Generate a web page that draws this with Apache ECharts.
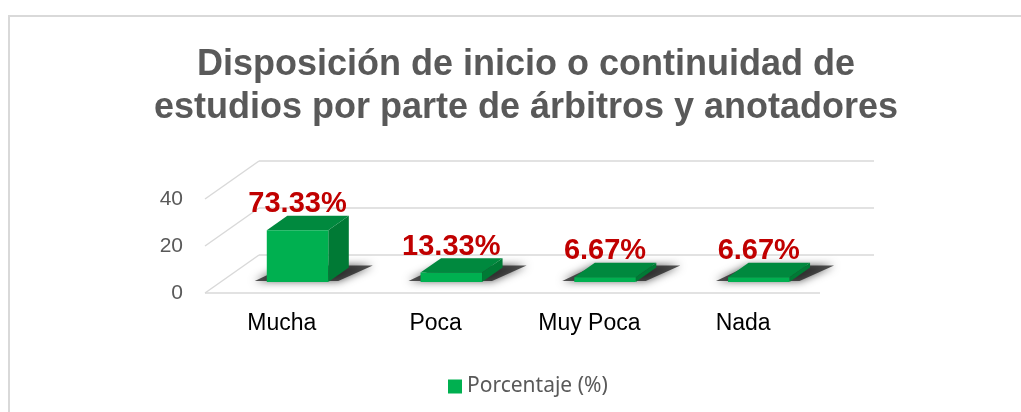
<!DOCTYPE html>
<html>
<head>
<meta charset="utf-8">
<script src="https://cdn.jsdelivr.net/npm/echarts@6/dist/echarts.min.js"></script>
<style>
  html, body { margin: 0; padding: 0; background: #fff; }
  #chart { width: 1021px; height: 412px; }
</style>
</head>
<body>
<div id="chart"></div>
<script>
// datos del gráfico
const categories = ['Mucha', 'Poca', 'Muy Poca', 'Nada'];
const counts = [22, 4, 2, 2];
const percentLabels = ['73.33%', '13.33%', '6.67%', '6.67%'];
const yTicks = [0, 20, 40];

// vector de profundidad (perspectiva oblicua) y posición de la barra en la profundidad
const DX = 54, DY = -38;
const F0 = 0.29, F1 = 0.67;
const BAR_W = 0.4;

const chart = echarts.init(document.getElementById('chart'));

// paredes y líneas de cuadrícula en 3D
function renderFrame(params, api) {
  const cs = params.coordSys;
  const v = api.value(0);
  const y = api.coord([0, v])[1];
  const lineStyle = { stroke: '#d9d9d9', lineWidth: 1.5 };
  const children = [
    { type: 'line', shape: { x1: cs.x, y1: y, x2: cs.x + DX, y2: y + DY }, style: lineStyle },
    { type: 'line', shape: { x1: cs.x + DX, y1: y + DY, x2: cs.x + cs.width + DX, y2: y + DY }, style: lineStyle }
  ];
  if (v === 0) {
    children.push({ type: 'line', shape: { x1: cs.x, y1: y, x2: cs.x + cs.width, y2: y }, style: lineStyle });
  }
  return { type: 'group', children };
}

// barra 3D con sombra y etiqueta
function renderBar(params, api) {
  const i = api.value(0);
  const v = api.value(1);
  const base = api.coord([i, 0]);
  const top = api.coord([i, v]);
  const bw = api.size([1, 0])[0] * BAR_W;
  const x0 = base[0] - bw / 2 + F0 * DX;
  const x1 = x0 + bw;
  const yb = base[1] + F0 * DY;
  const yt = top[1] + F0 * DY;
  const dx = (F1 - F0) * DX, dy = (F1 - F0) * DY;

  return {
    type: 'group',
    children: [
      {
        type: 'polygon',
        shape: { points: [[x0 - 12, yb - 1], [x1 + 10, yb - 1], [x1 + dx + 24, yb + dy - 2], [x0 + dx, yb + dy - 2]] },
        style: { fill: 'rgba(30,30,30,0.75)', shadowBlur: 9, shadowColor: 'rgba(0,0,0,0.9)' }
      },
      {
        type: 'polygon',
        shape: { points: [[x1, yt], [x1 + dx, yt + dy], [x1 + dx, yb + dy], [x1, yb]] },
        style: { fill: '#007a35' }
      },
      {
        type: 'polygon',
        shape: { points: [[x0, yt], [x1, yt], [x1 + dx, yt + dy], [x0 + dx, yt + dy]] },
        style: { fill: '#00893e' }
      },
      {
        type: 'rect',
        shape: { x: x0, y: yt, width: bw, height: yb - yt },
        style: { fill: '#00b050' }
      },
      {
        type: 'text',
        z2: 10,
        style: {
          text: percentLabels[params.dataIndex],
          x: (x0 + x1) / 2,
          y: yt - 26,
          align: 'center',
          verticalAlign: 'middle',
          fill: '#c00000',
          fontSize: 29,
          fontWeight: 'bold',
          fontFamily: 'Liberation Sans, Arial, sans-serif'
        }
      }
    ]
  };
}

const option = {
  animation: false,
  textStyle: { fontFamily: 'Liberation Sans, Arial, sans-serif' },
  title: {
    text: 'Disposición de inicio o continuidad de\nestudios por parte de árbitros y anotadores',
    left: 521,
    textAlign: 'center',
    top: 39,
    textStyle: {
      color: '#595959',
      fontSize: 36,
      fontWeight: 'bold',
      lineHeight: 43,
      fontFamily: 'Liberation Sans, Arial, sans-serif'
    }
  },
  graphic: [
    {
      type: 'rect',
      silent: true,
      shape: { x: 9, y: 16, width: 1100, height: 500 },
      style: { fill: 'none', stroke: '#d9d9d9', lineWidth: 2 }
    }
  ],
  legend: {
    data: ['Porcentaje (%)'],
    left: 443,
    top: 371,
    icon: 'rect',
    itemWidth: 14,
    itemHeight: 14,
    itemGap: 6,
    textStyle: { color: '#595959', fontSize: 21, fontFamily: 'Noto Sans, sans-serif' }
  },
  grid: { left: 205, right: 201, top: 199, bottom: 119 },
  xAxis: {
    type: 'category',
    data: categories,
    axisLine: { show: false },
    axisTick: { show: false },
    axisLabel: { color: '#000', fontSize: 23, margin: 19 },
    splitLine: { show: false }
  },
  yAxis: {
    type: 'value',
    min: 0,
    max: 40,
    interval: 20,
    axisLine: { show: false },
    axisTick: { show: false },
    splitLine: { show: false },
    axisLabel: { color: '#595959', fontSize: 21, margin: 22, padding: [5, 0, 0, 0] }
  },
  series: [
    {
      name: 'frame',
      type: 'custom',
      silent: true,
      z: 1,
      renderItem: renderFrame,
      data: yTicks.map(t => [t])
    },
    {
      name: 'Porcentaje (%)',
      type: 'custom',
      z: 2,
      itemStyle: { color: '#00b050' },
      renderItem: renderBar,
      encode: { x: 0, y: 1 },
      data: counts.map((c, i) => [i, c])
    }
  ]
};

chart.setOption(option);
</script>
</body>
</html>
